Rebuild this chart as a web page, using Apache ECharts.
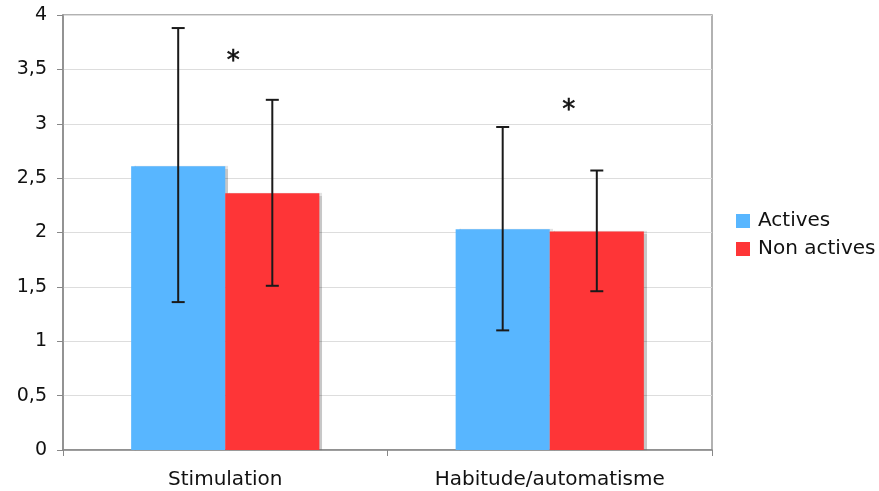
<!DOCTYPE html>
<html>
<head>
<meta charset="utf-8">
<script src="https://cdn.jsdelivr.net/npm/echarts@6/dist/echarts.min.js"></script>
<style>
  html, body { margin: 0; padding: 0; background: #fff; }
  #chart { width: 879px; height: 491px; }
</style>
</head>
<body>
<div id="chart"></div>
<script>
// données du graphique
const categories = ["Stimulation", "Habitude/automatisme"];
const activesMoy = [2.61, 2.03];
const activesHaut = [3.88, 2.97];
const activesBas = [1.36, 1.10];
const nonActivesMoy = [2.36, 2.01];
const nonActivesHaut = [3.22, 2.57];
const nonActivesBas = [1.51, 1.46];
// astérisques de significativité (hauteur en valeur)
const etoiles = [3.59, 3.14];

const chart = echarts.init(document.getElementById("chart"));
const font = "DejaVu Sans, Verdana, sans-serif";
const gapRatio = 0.42;

// barres d'erreur : side -1 = Actives, 1 = Non actives
const errorBars = (bas, haut, side) => ({
  type: "custom",
  z: 10,
  silent: true,
  renderItem: function (params, api) {
    const i = api.value(0);
    const bandW = api.size([1, 0])[0];
    const barW = (bandW * (1 - gapRatio)) / 2;
    const dx = side * barW / 2;
    const top = api.coord([i, api.value(2)]);
    const bot = api.coord([i, api.value(1)]);
    const x = top[0] + dx;
    const cap = 6.5;
    const style = { stroke: "#1a1a1a", lineWidth: 2 };
    return {
      type: "group",
      children: [
        { type: "line", shape: { x1: x, y1: top[1], x2: x, y2: bot[1] }, style },
        { type: "line", shape: { x1: x - cap, y1: top[1], x2: x + cap, y2: top[1] }, style },
        { type: "line", shape: { x1: x - cap, y1: bot[1], x2: x + cap, y2: bot[1] }, style },
      ],
    };
  },
  data: bas.map((b, i) => [i, b, haut[i]]),
});

const barShadow = {
  shadowColor: "rgba(0,0,0,0.22)",
  shadowOffsetX: 3,
  shadowOffsetY: 0,
  shadowBlur: 1,
};

const option = {
  animation: false,
  grid: {
    left: 63,
    right: 167,
    top: 15,
    bottom: 41,
    show: true,
    borderColor: "#999",
    borderWidth: 1.5,
  },
  legend: {
    orient: "vertical",
    left: 731,
    top: 206,
    itemWidth: 14,
    itemHeight: 14,
    itemGap: 8,
    icon: "rect",
    data: ["Actives", "Non actives"],
    textStyle: { fontFamily: font, fontSize: 20, color: "#111", padding: [0, 0, 0, 3] },
  },
  xAxis: {
    type: "category",
    data: categories,
    axisLine: { lineStyle: { color: "#888", width: 1.5 } },
    axisTick: { show: true, length: 6, lineStyle: { color: "#888" } },
    axisLabel: { fontFamily: font, fontSize: 20, color: "#111", margin: 20 },
  },
  yAxis: {
    type: "value",
    min: 0,
    max: 4,
    interval: 0.5,
    axisLine: { show: true, lineStyle: { color: "#888", width: 1.5 } },
    axisTick: { show: true, length: 6, lineStyle: { color: "#888" } },
    splitLine: { lineStyle: { color: "#ddd", width: 1.2 } },
    axisLabel: {
      fontFamily: font,
      fontSize: 19,
      color: "#111",
      margin: 16,
      formatter: (v) => String(v).replace(".", ","),
    },
  },
  series: [
    {
      name: "Actives",
      type: "bar",
      data: activesMoy,
      barGap: "0%",
      barCategoryGap: gapRatio * 100 + "%",
      itemStyle: Object.assign({ color: "#58b6ff" }, barShadow),
    },
    {
      name: "Non actives",
      type: "bar",
      data: nonActivesMoy,
      itemStyle: Object.assign({ color: "#fe3537" }, barShadow),
    },
    errorBars(activesBas, activesHaut, -1),
    errorBars(nonActivesBas, nonActivesHaut, 1),
    {
      type: "custom",
      silent: true,
      z: 11,
      renderItem: function (params, api) {
        const p = api.coord([api.value(0), api.value(1)]);
        const dx = params.dataIndex === 0 ? 8 : 19;
        return {
          type: "text",
          style: {
            text: "*",
            x: p[0] + dx,
            y: p[1] + 3,
            align: "center",
            verticalAlign: "middle",
            fontFamily: font,
            fontSize: 26,
            fill: "#111",
            stroke: "#111",
            lineWidth: 0.6,
          },
        };
      },
      data: etoiles.map((v, i) => [i, v]),
    },
  ],
};

chart.setOption(option);
window.addEventListener("resize", () => chart.resize());
</script>
</body>
</html>
